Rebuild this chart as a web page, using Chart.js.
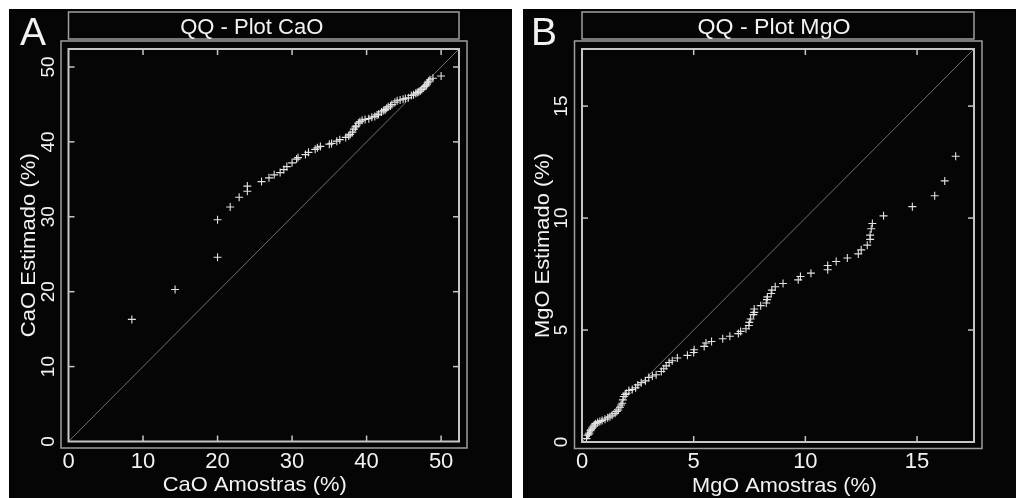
<!DOCTYPE html>
<html lang="en">
  <head>
    <meta charset="UTF-8" />
    <title>QQ - Plot</title>
    <style>
      html,
      body {
        margin: 0;
        padding: 0;
        background: #ffffff;
      }

      body {
        width: 1016px;
        height: 498px;
        position: relative;
        overflow: hidden;
      }

      .panel {
        position: absolute;
        background: #050505;
      }

      #panel-a {
        left: 9px;
        top: 9px;
        width: 503px;
        height: 489px;
      }

      #panel-b {
        left: 523px;
        top: 9px;
        width: 493px;
        height: 489px;
      }
    </style>
  </head>
  <body>
    <div id="panel-a" class="panel">
      <canvas id="chart-a" width="503" height="489"></canvas>
    </div>
    <div id="panel-b" class="panel">
      <canvas id="chart-b" width="493" height="489"></canvas>
    </div>

    <script src="https://cdn.jsdelivr.net/npm/chart.js"></script>

    <script>
      // CaO: sample quantiles vs estimated quantiles (%)
      const caoAmostras = [
        8.5, 14.3, 20.0, 20.0, 21.7, 22.9, 24.0, 24.0, 25.9, 26.9, 27.6, 28.4,
        28.9, 29.3, 30.0, 30.6, 30.8, 31.8, 32.2, 33.1, 33.4, 33.8, 35.0, 35.3,
        36.0, 36.4, 37.2, 37.6, 37.8, 38.1, 38.3, 38.5, 38.6, 38.9, 39.1, 39.4,
        39.8, 40.3, 40.7, 41.1, 41.4, 41.6, 42.0, 42.3, 42.5, 42.7, 42.9, 43.2,
        43.4, 43.8, 44.1, 44.5, 44.9, 45.2, 45.6, 46.0, 46.3, 46.6, 46.8, 47.0,
        47.2, 47.4, 47.6, 47.8, 48.0, 48.1, 48.2, 48.3, 48.5, 48.9, 50.0,
      ];
      const caoEstimado = [
        16.3, 20.3, 24.6, 29.6, 31.3, 32.6, 33.4, 34.1, 34.7, 35.2, 35.6, 35.9,
        36.3, 36.7, 37.2, 37.7, 37.9, 38.3, 38.6, 39.0, 39.2, 39.4, 39.7, 39.8,
        40.1, 40.3, 40.6, 40.8, 41.0, 41.3, 41.7, 42.0, 42.1, 42.5, 42.7, 42.9,
        43.0, 43.1, 43.3, 43.4, 43.6, 43.7, 44.0, 44.2, 44.3, 44.5, 44.7, 44.8,
        45.0, 45.3, 45.5, 45.6, 45.7, 45.8, 45.9, 46.2, 46.3, 46.5, 46.6, 46.7,
        46.8, 47.0, 47.2, 47.4, 47.5, 47.7, 47.9, 48.1, 48.3, 48.5, 48.8,
      ];

      // MgO: sample quantiles vs estimated quantiles (%)
      const mgoAmostras = [
        0.2, 0.25, 0.3, 0.33, 0.38, 0.4, 0.45, 0.5, 0.55, 0.6, 0.7, 0.8, 0.9,
        1.03, 1.15, 1.25, 1.35, 1.48, 1.56, 1.63, 1.7, 1.75, 1.8, 1.83, 1.87,
        1.93, 1.98, 2.1, 2.25, 2.4, 2.5, 2.65, 2.84, 2.99, 3.15, 3.32, 3.55,
        3.66, 3.77, 3.9, 4.04, 4.27, 4.72, 5.0, 5.02, 5.47, 5.55, 5.8, 6.3, 6.62,
        7.0, 7.1, 7.34, 7.47, 7.49, 7.55, 7.67, 7.71, 7.71, 8.0, 8.25, 8.28, 8.3,
        8.47, 8.5, 8.65, 9.0, 9.68, 9.78, 10.25, 11.0, 11.0, 11.38, 11.88,
        12.37, 12.5, 12.77, 12.9, 12.9, 12.95, 13.0, 13.5, 14.79, 15.79, 16.24,
        16.73,
      ];
      const mgoEstimado = [
        0.15, 0.3, 0.35, 0.4, 0.5, 0.55, 0.62, 0.7, 0.76, 0.82, 0.87, 0.92,
        0.96, 1.02, 1.08, 1.13, 1.2, 1.28, 1.36, 1.43, 1.55, 1.65, 1.73, 1.88,
        2.03, 2.12, 2.18, 2.3, 2.35, 2.42, 2.55, 2.65, 2.73, 2.88, 2.95, 3.0,
        3.15, 3.27, 3.4, 3.55, 3.63, 3.75, 3.87, 4.0, 4.12, 4.27, 4.42, 4.49,
        4.61, 4.72, 4.84, 4.94, 5.06, 5.2, 5.34, 5.49, 5.69, 5.79, 5.94, 6.09,
        6.21, 6.36, 6.48, 6.63, 6.78, 6.93, 7.08, 7.24, 7.39, 7.54, 7.69, 7.88,
        8.06, 8.22, 8.4, 8.58, 8.79, 9.05, 9.24, 9.52, 9.76, 10.1, 10.51, 11.0,
        11.66, 12.76,
      ];

      const caoTicks = [0, 10, 20, 30, 40, 50];
      const mgoTicks = [0, 5, 10, 15];

      const caoMax = 52.4;
      const mgoMax = 17.55;

      const FONT = '"Liberation Sans", Arial, Helvetica, sans-serif';
      const TEXT_COLOR = "#f2f2f2";

      function drawText(ctx, text, x, y, size, opts = {}) {
        ctx.save();
        ctx.translate(x, y);
        if (opts.rotate) ctx.rotate(opts.rotate);
        ctx.font = `${size}px ${FONT}`;
        if (opts.width) {
          const natural = ctx.measureText(text).width;
          ctx.scale(opts.width / natural, 1);
        }
        ctx.fillStyle = TEXT_COLOR;
        ctx.textAlign = opts.align || "center";
        ctx.textBaseline = "alphabetic";
        ctx.fillText(text, 0, 0);
        ctx.restore();
      }

      function strokeLine(ctx, x1, y1, x2, y2) {
        ctx.beginPath();
        ctx.moveTo(x1, y1);
        ctx.lineTo(x2, y2);
        ctx.stroke();
      }

      // frame, inward ticks, labels and title box, drawn from the chart's scales
      const framePlugin = {
        id: "frame",
        afterDraw(chart, args, opts) {
          const { ctx, chartArea: a, scales } = chart;
          ctx.save();

          ctx.strokeStyle = "#9e9e9e";
          ctx.lineWidth = 1.5;
          ctx.strokeRect(a.left - 7.5, a.top - 8, a.width + 15.5, a.height + 14.5);

          ctx.strokeRect(a.left, a.top - 37, a.width, 27);

          ctx.strokeStyle = "#c6c6c6";
          ctx.lineWidth = 2;
          ctx.strokeRect(a.left, a.top, a.width, a.height);

          ctx.lineWidth = 1.5;
          opts.ticks.forEach((v) => {
            const x = scales.x.getPixelForValue(v);
            const y = scales.y.getPixelForValue(v);
            if (v > 0) {
              strokeLine(ctx, x, a.bottom, x, a.bottom - 6);
              strokeLine(ctx, x, a.top, x, a.top + 6);
              strokeLine(ctx, a.left, y, a.left + 6, y);
              strokeLine(ctx, a.right, y, a.right - 6, y);
            }
            drawText(ctx, String(v), x, a.bottom + 26, 22);
            drawText(ctx, String(v), a.left - 15, y, 19, {
              rotate: -Math.PI / 2,
            });
          });

          const cx = (a.left + a.right) / 2;
          const cy = (a.top + a.bottom) / 2;
          drawText(ctx, opts.title, cx + opts.titleShift, a.top - 15, 22, {
            width: opts.titleWidth,
          });
          drawText(ctx, opts.xTitle, cx + opts.xTitleShift, a.bottom + 49.5, 21, {
            width: opts.xTitleWidth,
          });
          drawText(ctx, opts.yTitle, a.left - 33.5, cy, 21, {
            rotate: -Math.PI / 2,
            width: opts.yTitleWidth,
          });
          drawText(ctx, opts.letter, opts.letterX, 36, 39, { align: "left" });

          ctx.restore();
        },
      };

      function toPoints(xs, ys) {
        return xs.map((x, i) => ({ x, y: ys[i] }));
      }

      function renderQQ(id, xs, ys, max, padding, frame) {
        return new Chart(document.getElementById(id), {
          type: "scatter",
          data: {
            datasets: [
              {
                data: toPoints(xs, ys),
                pointStyle: "cross",
                pointRadius: 4,
                pointBorderWidth: 1.1,
                pointBorderColor: "#e2e2e2",
                pointBackgroundColor: "#e2e2e2",
              },
              {
                data: [
                  { x: 0, y: 0 },
                  { x: max, y: max },
                ],
                showLine: true,
                pointRadius: 0,
                borderColor: "#707070",
                borderWidth: 1,
              },
            ],
          },
          options: {
            responsive: false,
            animation: false,
            layout: { padding },
            plugins: {
              legend: { display: false },
              tooltip: { enabled: false },
              frame,
            },
            scales: {
              x: { type: "linear", min: 0, max, display: false },
              y: { type: "linear", min: 0, max, display: false },
            },
          },
          plugins: [framePlugin],
        });
      }

      renderQQ(
        "chart-a",
        caoAmostras,
        caoEstimado,
        caoMax,
        { left: 59.5, top: 40, right: 53, bottom: 56.5 },
        {
          ticks: caoTicks,
          title: "QQ - Plot CaO",
          titleShift: -12,
          titleWidth: 143,
          xTitle: "CaO Amostras (%)",
          xTitleShift: -9,
          xTitleWidth: 184,
          yTitle: "CaO Estimado (%)",
          yTitleWidth: 184,
          letter: "A",
          letterX: 11,
        }
      );

      renderQQ(
        "chart-b",
        mgoAmostras,
        mgoEstimado,
        mgoMax,
        { left: 59, top: 40, right: 42, bottom: 56 },
        {
          ticks: mgoTicks,
          title: "QQ - Plot MgO",
          titleShift: -4,
          titleWidth: 153,
          xTitle: "MgO Amostras (%)",
          xTitleShift: 6.5,
          xTitleWidth: 185,
          yTitle: "MgO Estimado (%)",
          yTitleWidth: 185,
          letter: "B",
          letterX: 8,
        }
      );
    </script>
  </body>
</html>
